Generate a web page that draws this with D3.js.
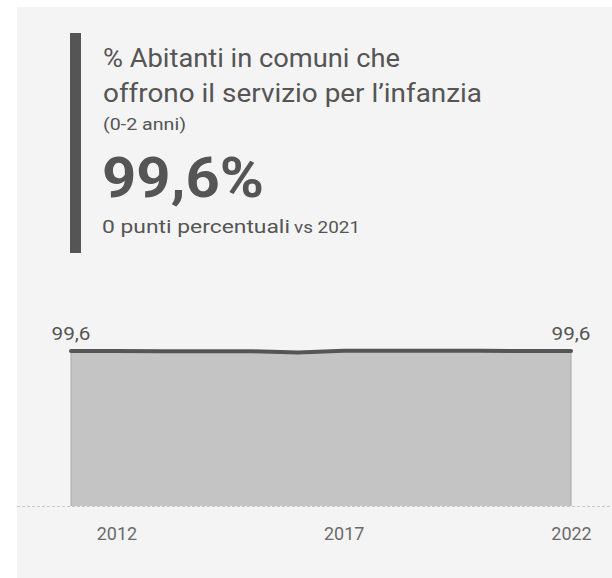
<!DOCTYPE html>
<html><head><meta charset="utf-8">
<script src="https://cdn.jsdelivr.net/npm/d3@7"></script>
<style>
html,body{margin:0;padding:0;background:#fff;}
svg{display:block;font-family:Roboto,sans-serif;}
</style></head>
<body>
<svg id="c" width="612" height="578"></svg>
<script>
const years = [2011,2012,2013,2014,2015,2016,2017,2018,2019,2020,2021,2022];
const values = [99.6,99.6,99.5,99.4,99.4,98.6,99.7,99.7,99.7,99.8,99.6,99.6];
const tickYears = [2012,2017,2022];
const titleLines = ["% Abitanti in comuni che","offrono il servizio per l\u2019infanzia"];
const subTitle = "(0-2 anni)";
const kpi = "99,6%";
const deltaText = "0 punti percentuali";
const deltaRef = "vs 2021";

const fmt = v => d3.format(".1f")(v).replace(".", ",");
const svg = d3.select("#c");

svg.append("rect").attr("x",17).attr("y",7).attr("width",595).attr("height",571).attr("fill","#f4f4f4");

// KPI header
svg.append("rect").attr("x",70).attr("y",33).attr("width",11).attr("height",220).attr("fill","#555555");
const hdr = svg.append("g").attr("fill","#555555");
const tl = [297, 379];
titleLines.forEach((t,i)=>{
  hdr.append("text").attr("x",103).attr("y",67+i*35).attr("font-size",25).text(t)
    .attr("textLength",tl[i]).attr("lengthAdjust","spacingAndGlyphs");
});
hdr.append("text").attr("x",103).attr("y",130).attr("font-size",17).text(subTitle)
  .attr("textLength",83).attr("lengthAdjust","spacingAndGlyphs");
hdr.append("text").attr("x",102).attr("y",197).attr("font-size",56).attr("font-weight","bold").text(kpi)
  .attr("textLength",162).attr("lengthAdjust","spacingAndGlyphs");
hdr.append("text").attr("x",102).attr("y",233).attr("font-size",19).text(deltaText)
  .attr("textLength",188).attr("lengthAdjust","spacingAndGlyphs");
hdr.append("text").attr("x",294).attr("y",233).attr("font-size",17).text(deltaRef)
  .attr("textLength",66).attr("lengthAdjust","spacingAndGlyphs");

// chart
const x = d3.scaleLinear().domain([d3.min(years), d3.max(years)]).range([71,571]);
const y = d3.scaleLinear().domain([0,100]).range([506,350.4]);
const data = years.map((yr,i)=>({yr, v:values[i]}));

svg.append("path").datum(data)
  .attr("d", d3.area().x(d=>x(d.yr)).y0(y(0)).y1(d=>y(d.v)))
  .attr("fill","#c4c4c4");
[data[0], data[data.length-1]].forEach(d=>{
  svg.append("line").attr("x1",x(d.yr)).attr("x2",x(d.yr)).attr("y1",y(d.v)).attr("y2",y(0))
    .attr("stroke","#a8a8a8").attr("stroke-width",1);
});
svg.append("line").attr("x1",17).attr("x2",612).attr("y1",y(0)+0.5).attr("y2",y(0)+0.5)
  .attr("stroke","#c8c8c8").attr("stroke-width",1).attr("stroke-dasharray","3,2");

svg.append("path").datum(data)
  .attr("d", d3.line().x(d=>x(d.yr)).y(d=>y(d.v)))
  .attr("fill","none").attr("stroke","#555555").attr("stroke-width",4)
  .attr("stroke-linecap","round").attr("stroke-linejoin","round");

[data[0], data[data.length-1]].forEach(d=>{
  svg.append("text").attr("x",x(d.yr)).attr("y",y(d.v)-11).attr("text-anchor","middle")
    .attr("font-size",18).attr("fill","#555555").text(fmt(d.v))
    .attr("textLength",39).attr("lengthAdjust","spacingAndGlyphs");
});

const ax = svg.append("g").attr("transform",`translate(0,${y(0)})`)
  .call(d3.axisBottom(x).tickValues(tickYears).tickFormat(d3.format("d")).tickSize(0).tickPadding(21));
ax.select(".domain").remove();
ax.selectAll("text").attr("font-size",18).attr("fill","#6b6b6b").attr("font-family","Roboto,sans-serif");
</script>
</body></html>
